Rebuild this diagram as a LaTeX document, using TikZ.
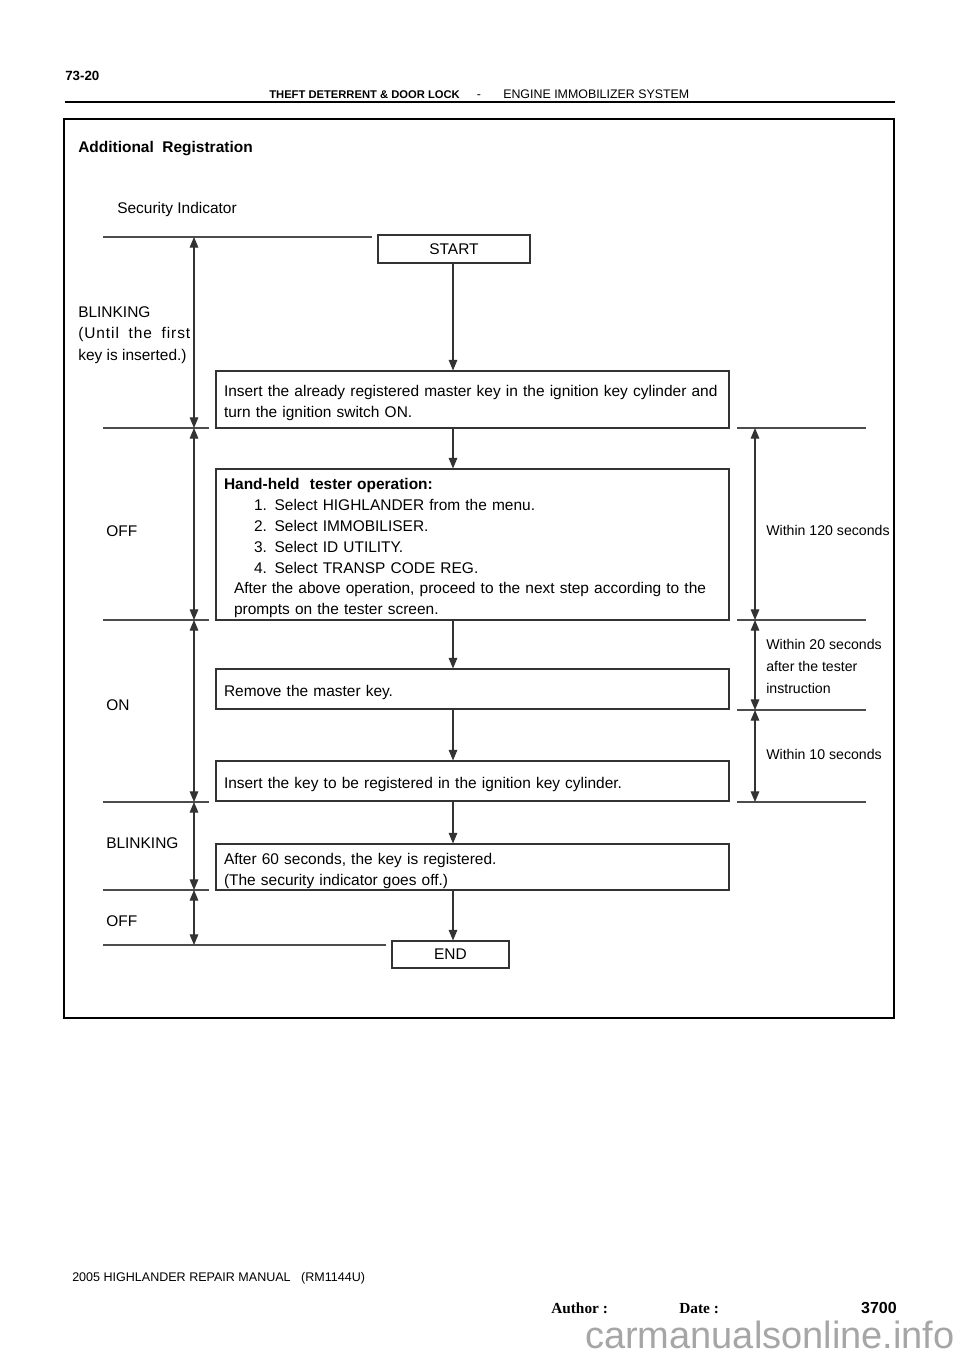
\documentclass[tikz,border=0pt]{standalone}
\usepackage{fontspec}
\setmainfont{Liberation Sans}
\newfontfamily\serifbold{Liberation Serif}
\usetikzlibrary{arrows.meta}

\tikzset{
  stepbox/.style={draw=black!80, line width=0.8pt, rectangle, inner xsep=6pt, inner ysep=0pt,
    minimum width=384.75pt, text width=372.75pt, align=left, font=\fontsize{11.6}{15.6}\selectfont,
    execute at begin node={\rule{0pt}{14pt}}},
  termbox/.style={draw=black!80, line width=0.8pt, inner sep=0pt, font=\fontsize{11.6}{14}\selectfont},
  flow/.style={draw=black!80, line width=0.8pt, -{Triangle[length=8pt,width=6.5pt]}},
  dim/.style={draw=black!80, line width=0.8pt, {Triangle[length=8pt,width=6.5pt]}-{Triangle[length=8pt,width=6.5pt]}},
  rule/.style={draw=black!70, line width=0.8pt},
  lbl/.style={inner sep=0pt, anchor=west, align=left, font=\fontsize{11.6}{16.1}\selectfont},
  note/.style={inner sep=0pt, anchor=west, align=left, font=\fontsize{10.6}{16.5}\selectfont},
}

\begin{document}
\begin{tikzpicture}[x=0.75pt, y=-0.75pt]
  \useasboundingbox (0,0) rectangle (960,1358);
  % page header
  \node[anchor=west, inner sep=0pt, font=\fontsize{10}{12}\selectfont\bfseries] (P0) at (65,76) {73-20};
  \node[anchor=base east, inner sep=0pt, font=\fontsize{8.4}{10}\selectfont\bfseries] (P1) at (460,98.5) {THEFT DETERRENT \& DOOR LOCK};
  \node[anchor=base, inner sep=0pt, font=\fontsize{9.3}{10}\selectfont] (P2) at (479,98.5) {-};
  \node[anchor=base west, inner sep=0pt, font=\fontsize{9.3}{10}\selectfont] (P3) at (503,98.5) {ENGINE IMMOBILIZER SYSTEM};
  \draw[line width=1.2pt] (65,102) -- (895,102);
  % frame
  \draw[line width=1.3pt] (64,119) rectangle (894,1018);
  \node[lbl, font=\fontsize{11.6}{14}\selectfont\bfseries] (T0) at (78,149) {Additional\ \ Registration};
  \node[lbl] (T1) at (117,210) {Security Indicator};
  % steps
  \node[termbox, minimum width=114pt, minimum height=21pt] (A0) at (454,249) {START};
  \node[stepbox, minimum height=42.75pt] (A1) at (472.5,399.5)
    {Insert the already registered master key in the ignition key cylinder and\\turn the ignition switch ON.};
  \node[stepbox, minimum height=113.25pt] (A2) at (472.5,544.5)
    {{\bfseries Hand-held\ \ tester operation:}\\
     \hspace*{22.5pt}1. Select HIGHLANDER from the menu.\\
     \hspace*{22.5pt}2. Select IMMOBILISER.\\
     \hspace*{22.5pt}3. Select ID UTILITY.\\
     \hspace*{22.5pt}4. Select TRANSP CODE REG.\\
     \hspace*{7.5pt}After the above operation, proceed to the next step according to the\\
     \hspace*{7.5pt}prompts on the tester screen.};
  \node[stepbox, minimum height=30pt] (A3) at (472.5,689) {Remove the master key.};
  \node[stepbox, minimum height=30pt] (A4) at (472.5,781) {Insert the key to be registered in the ignition key cylinder.};
  \node[stepbox, minimum height=34.5pt] (A5) at (472.5,867)
    {After 60 seconds, the key is registered.\\(The security indicator goes off.)};
  \node[termbox, minimum width=87.75pt, minimum height=20.25pt] (A6) at (450.5,954.5) {END};
  \coordinate (F) at (453,0);
  \foreach \a/\b in {A0/A1,A1/A2,A2/A3,A3/A4,A4/A5,A5/A6}
    \path (\a.south -| F) edge [flow] (\b.north -| F);
  % indicator levels
  \foreach \n/\y in {0/237,1/428,2/620,3/802,4/890,5/945}
    \coordinate (L\n) at (103,\y);
  \foreach \n/\y in {1/428,2/620,3/710,4/802}
    \coordinate (R\n) at (866,\y);
  \draw[rule] (L0) -- ([xshift=-3.75pt]A0.west |- L0);
  \draw[rule] (L5) -- ([xshift=-3.75pt]A6.west |- L5);
  \foreach \n in {1,...,4}
    \draw[rule] (L\n) -- ([xshift=-4.5pt]A1.west |- L\n);
  \foreach \n in {1,...,4}
    \draw[rule] (R\n) -- ([xshift=5.25pt]A1.east |- R\n);
  \coordinate (D) at (194,0);
  \coordinate (E) at (755,0);
  \foreach \a/\b in {0/1,1/2,2/3,3/4,4/5}
    \draw[dim] (L\a -| D) -- (L\b -| D);
  \foreach \a/\b in {1/2,2/3,3/4}
    \draw[dim] (R\a -| E) -- (R\b -| E);
  \node[lbl] (B0) at (78,335) {BLINKING\\\makebox[84pt][s]{\addfontfeature{LetterSpace=6}(Until the first}\\key is inserted.)};
  \node[lbl] (B1) at (106,531) {OFF};
  \node[lbl] (B2) at (106,705) {ON};
  \node[lbl] (B3) at (106,843) {BLINKING};
  \node[lbl] (B4) at (106,921) {OFF};
  \node[note] (W1) at (766,530) {Within 120 seconds};
  \node[note] (W2) at (766,666) {Within 20 seconds\\after the tester\\instruction};
  \node[note] (W3) at (766,754) {Within 10 seconds};
  % page footer
  \node[anchor=west, inner sep=0pt, font=\fontsize{9.4}{11}\selectfont] (G0) at (72,1278) {2005 HIGHLANDER REPAIR MANUAL\ \ \ (RM1144U)};
  \node[anchor=base west, inner sep=0pt, font=\serifbold\fontsize{11.5}{13}\selectfont\bfseries] (G1) at (551,1313.5) {Author :};
  \node[anchor=base west, inner sep=0pt, font=\serifbold\fontsize{11.5}{13}\selectfont\bfseries] (G2) at (679,1313.5) {Date :};
  \node[anchor=base east, inner sep=0pt, font=\fontsize{12}{13}\selectfont\bfseries] (G3) at (897,1313.5) {3700};
  \node[anchor=east, inner sep=0pt, text=black!35, font=\fontsize{28.5}{30}\selectfont] (G4) at (955,1335) {carmanualsonline.info};
\end{tikzpicture}
\end{document}
